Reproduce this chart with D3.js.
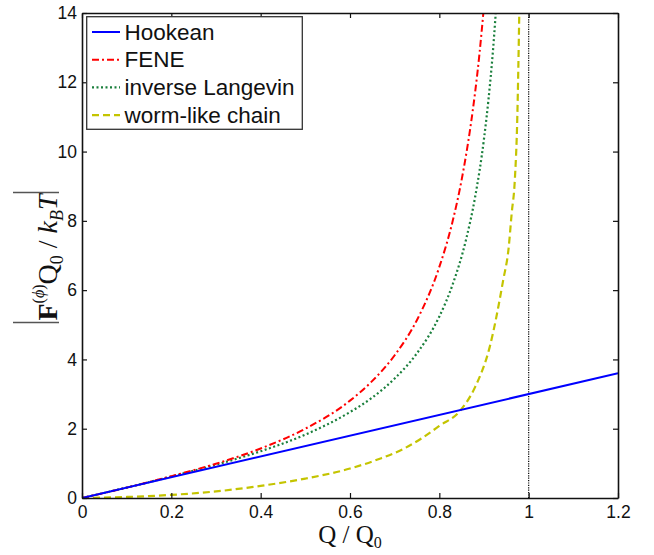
<!DOCTYPE html>
<html><head><meta charset="utf-8">
<script src="https://d3js.org/d3.v7.min.js"></script>
<style>
body{margin:0;background:#fff;}
svg{display:block;}
</style></head>
<body>
<script>
// ---- data ----
const xTicks = [0, 0.2, 0.4, 0.6, 0.8, 1, 1.2];
const yTicks = [0, 2, 4, 6, 8, 10, 12, 14];
const seriesNames = ["Hookean", "FENE", "inverse Langevin", "worm-like chain"];

const qHook = [0, 1.2];
const fHook = [0, 3.6];

const qFene = [0, 0.1, 0.2, 0.3, 0.4, 0.5, 0.6, 0.65, 0.7, 0.75, 0.8, 0.83, 0.85, 0.87, 0.88, 0.89, 0.9];
const fFene = [0, 0.30, 0.63, 0.99, 1.43, 2.00, 2.81, 3.38, 4.12, 5.14, 6.67, 8.00, 9.19, 10.74, 11.70, 12.84, 14.21];

const qLang = [0, 0.1, 0.2, 0.3, 0.4, 0.5, 0.6, 0.65, 0.7, 0.75, 0.8, 0.83, 0.86, 0.88, 0.9, 0.91, 0.92, 0.93];
const fLang = [0, 0.30, 0.62, 0.96, 1.35, 1.83, 2.48, 2.90, 3.45, 4.18, 5.24, 6.17, 7.47, 8.68, 10.37, 11.50, 12.90, 14.70];

const qWlc = [0, 0.1, 0.2, 0.3, 0.4, 0.5, 0.6, 0.67, 0.72, 0.76, 0.8, 0.848, 0.88, 0.913, 0.943, 0.955, 0.962, 0.969, 0.9745, 0.979];
const fWlc = [0, 0.03, 0.09, 0.19, 0.35, 0.56, 0.85, 1.15, 1.42, 1.72, 2.08, 2.54, 3.2, 4.37, 6.29, 7.2, 8.22, 9.18, 10.96, 14.0];

const qLimit = [1, 1];
const fLimit = [0, 14];

// ---- layout ----
const W = 654, H = 555;
const L = 82, R = 618, T = 13, B = 498;

const svg = d3.select("body").append("svg").attr("width", W).attr("height", H);
const x = d3.scaleLinear().domain([0, 1.2]).range([L, R]);
const y = d3.scaleLinear().domain([0, 14]).range([B, T]);

svg.append("defs").append("clipPath").attr("id", "clip")
  .append("rect").attr("x", L).attr("y", T).attr("width", R - L).attr("height", B - T);

const zip = (qs, fs) => qs.map((q, i) => [q, fs[i]]);
const line = d3.line().x(d => x(d[0])).y(d => y(d[1])).curve(d3.curveMonotoneX);
const straight = d3.line().x(d => x(d[0])).y(d => y(d[1]));

const series = [
  {name: seriesNames[0], data: zip(qHook, fHook), color: "#0000ff", dash: null, w: 2},
  {name: seriesNames[1], data: zip(qFene, fFene), color: "#ff0000", dash: "7,3,2,3", w: 2},
  {name: seriesNames[2], data: zip(qLang, fLang), color: "#1a7f3c", dash: "2,2.5", w: 2.2},
  {name: seriesNames[3], data: zip(qWlc, fWlc), color: "#c4c400", dash: "7,4", w: 2.2}
];

const plot = svg.append("g").attr("clip-path", "url(#clip)");

// vertical limit line
plot.append("path").attr("d", straight(zip(qLimit, fLimit)))
  .attr("fill", "none").attr("stroke", "#000").attr("stroke-width", 1.2).attr("stroke-dasharray", "1.2,1.2");

series.slice().reverse().forEach(s => {
  plot.append("path").attr("d", line(s.data))
    .attr("fill", "none").attr("stroke", s.color).attr("stroke-width", s.w)
    .attr("stroke-dasharray", s.dash);
});

// ---- axes ----
const fmt = d => d3.format("~g")(d);
const gx = svg.append("g").attr("transform", `translate(0,${B})`)
  .call(d3.axisBottom(x).tickValues(xTicks).tickFormat(fmt).tickSizeInner(-5).tickSizeOuter(0).tickPadding(8));
const gy = svg.append("g").attr("transform", `translate(${L},0)`)
  .call(d3.axisLeft(y).tickValues(yTicks).tickFormat(fmt).tickSizeInner(-5).tickSizeOuter(0).tickPadding(5));
const gt = svg.append("g").attr("transform", `translate(0,${T})`)
  .call(d3.axisTop(x).tickValues(xTicks).tickFormat("").tickSizeInner(-5).tickSizeOuter(0));
const gr = svg.append("g").attr("transform", `translate(${R},0)`)
  .call(d3.axisRight(y).tickValues(yTicks).tickFormat("").tickSizeInner(-5).tickSizeOuter(0));

[gx, gy, gt, gr].forEach(g => {
  g.select(".domain").attr("stroke", "#111").attr("stroke-width", 1.6);
  g.selectAll(".tick line").attr("stroke", "#111").attr("stroke-width", 1.2);
  g.selectAll("text").attr("font-family", "'Liberation Sans', Arial, sans-serif")
    .attr("font-size", 17.5).attr("fill", "#111");
});

// ---- axis titles ----
const xt = svg.append("text").attr("x", (L + R) / 2).attr("y", 543)
  .attr("text-anchor", "middle").attr("font-family", "'Liberation Serif', 'Times New Roman', serif")
  .attr("font-size", 25).attr("fill", "#111");
xt.append("tspan").text("Q / Q");
xt.append("tspan").attr("font-size", 16).attr("dy", 5).text("0");

const yl = svg.append("g").attr("transform", `translate(57,${(T + B) / 2 + 2}) rotate(-90)`);
const yt = yl.append("text").attr("x", 0).attr("y", 0).attr("text-anchor", "middle")
  .attr("font-family", "'Liberation Serif', 'Times New Roman', serif").attr("font-size", 28).attr("fill", "#111");
yt.append("tspan").attr("font-weight", "bold").text("F");
yt.append("tspan").attr("font-size", 16).attr("dy", -13).text("(");
yt.append("tspan").attr("font-size", 16).attr("font-style", "italic").text("ϕ");
yt.append("tspan").attr("font-size", 16).text(")");
yt.append("tspan").attr("dy", 13).text("Q");
yt.append("tspan").attr("font-size", 18).attr("dy", 6).text("0");
yt.append("tspan").attr("dy", -6).text(" / ");
yt.append("tspan").attr("font-style", "italic").text("k");
yt.append("tspan").attr("font-size", 18).attr("font-style", "italic").attr("dy", 6).text("B");
yt.append("tspan").attr("font-style", "italic").attr("dy", -6).text("T");
[-65, 65].forEach(bx => {
  yl.append("line").attr("x1", bx).attr("x2", bx).attr("y1", -44).attr("y2", 2)
    .attr("stroke", "#555").attr("stroke-width", 1.3);
});

// ---- legend ----
const lg = svg.append("g");
lg.append("rect").attr("x", 86.7).attr("y", 16.7).attr("width", 215.6).attr("height", 112.6)
  .attr("fill", "#fff").attr("stroke", "#333").attr("stroke-width", 1.3);
series.forEach((s, i) => {
  const by = 39.5 + i * 27.7;
  lg.append("line").attr("x1", 92).attr("x2", 120).attr("y1", by - 7.5).attr("y2", by - 7.5)
    .attr("stroke", s.color).attr("stroke-width", s.w).attr("stroke-dasharray", s.dash);
  lg.append("text").attr("x", 124.5).attr("y", by).text(s.name)
    .attr("font-family", "'Liberation Sans', Arial, sans-serif").attr("font-size", 22.5).attr("fill", "#111");
});
</script>
</body></html>
